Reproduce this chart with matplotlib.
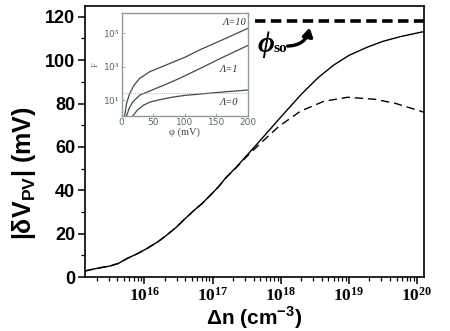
import matplotlib
matplotlib.use('Agg')
import matplotlib.pyplot as plt
import numpy as np
from matplotlib.ticker import LogLocator, MultipleLocator, FixedLocator, NullFormatter

plt.rcParams['mathtext.fontset'] = 'custom'
plt.rcParams['mathtext.rm'] = 'Liberation Serif:bold'
plt.rcParams['mathtext.bf'] = 'Liberation Serif:bold'
plt.rcParams['mathtext.sf'] = 'Liberation Sans:bold'

# main curves, log10 of delta n
logn_solid = [15.13, 15.3, 15.5, 15.62, 15.75, 15.9, 16.04, 16.2, 16.33, 16.47, 16.6,
              16.72, 16.85, 16.97, 17.09, 17.19, 17.34, 17.46, 17.58, 17.7, 17.8,
              18.05, 18.3, 18.55, 18.78, 19.0, 19.27, 19.5, 19.76, 20.1]
v_solid = [2.8, 4.0, 5.1, 6.3, 8.6, 10.8, 13.2, 16.3, 19.4, 23.0, 27.0,
           30.5, 34.0, 37.8, 41.7, 45.6, 50.4, 54.6, 58.8, 63.0, 66.6,
           75.5, 84.2, 92.0, 97.8, 102.2, 106.0, 108.7, 110.9, 113.2]

logn_dash = [15.13, 15.3, 15.5, 15.62, 15.75, 15.9, 16.04, 16.2, 16.33, 16.47, 16.6,
             16.72, 16.85, 16.97, 17.09, 17.19, 17.34, 17.5, 17.68, 17.97, 18.29,
             18.63, 18.98, 19.37, 19.67, 20.0, 20.1]
v_dash = [2.8, 4.0, 5.1, 6.3, 8.6, 10.8, 13.2, 16.3, 19.4, 23.0, 27.0,
          30.5, 34.0, 37.8, 41.7, 45.6, 50.2, 55.5, 61.0, 69.4, 76.5,
          81.0, 82.9, 82.0, 80.2, 77.0, 76.0]

logn_so = [17.63, 20.1]
v_so = [118.2, 118.2]

xticks_exp = [16, 17, 18, 19, 20]

# inset: phi (mV) and log10 F
phi_10 = [5, 8, 13, 20, 29, 45, 71, 100, 124, 160, 200]
logF_10 = [0.06, 0.8, 1.4, 1.9, 2.3, 2.7, 3.1, 3.55, 4.0, 4.6, 5.28]
phi_1 = [8, 12, 18, 29, 45, 71, 92, 124, 160, 200]
logF_1 = [0.06, 0.5, 0.9, 1.3, 1.55, 1.95, 2.3, 2.88, 3.55, 4.26]
phi_0 = [18, 25, 35, 45, 60, 80, 100, 130, 160, 200]
logF_0 = [0.06, 0.4, 0.7, 0.88, 1.02, 1.17, 1.28, 1.38, 1.48, 1.6]
logF_ref = 1.4


fig = plt.figure(figsize=(4.5, 3.31), dpi=100)
ax = fig.add_axes([0.189, 0.163, 0.753, 0.819])

ax.plot(10**np.array(logn_solid), v_solid, color='black', lw=1.0)
ax.plot(10**np.array(logn_dash), v_dash, color='black', lw=1.0, dashes=(6, 3.5))
ax.plot(10**np.array(logn_so), v_so, color='black', lw=2.6, dashes=(2.9, 1.5))

ax.set_xscale('log')
ax.set_xlim(10**15.13, 10**20.1)
ax.set_ylim(0, 125)

ax.xaxis.set_major_locator(FixedLocator([10.0**e for e in xticks_exp]))
ax.set_xticklabels([r'$\mathbf{10^{%d}}$' % e for e in xticks_exp], fontsize=12.5)
ax.xaxis.set_minor_locator(LogLocator(base=10, subs=np.arange(2, 10)))
ax.xaxis.set_minor_formatter(NullFormatter())
ax.yaxis.set_major_locator(MultipleLocator(20))
ax.yaxis.set_minor_locator(MultipleLocator(10))
for lab in ax.get_yticklabels():
    lab.set_fontweight('bold')
    lab.set_fontsize(13)
    lab.set_fontfamily('Liberation Sans')

ax.tick_params(which='major', direction='out', length=5, width=1.1, pad=2)
ax.tick_params(which='minor', direction='out', length=3, width=0.9)
ax.tick_params(axis='x', which='major', pad=2)
for s in ax.spines.values():
    s.set_linewidth(1.2)

ax.set_ylabel(r'|δV$_{\mathsf{PV}}$| (mV)', fontsize=18, fontweight='bold',
              fontfamily='Liberation Sans')
ax.yaxis.set_label_coords(-0.14, 0.384)
ax.set_xlabel(r'Δn (cm$^{\mathsf{-3}}$)', fontsize=15, fontweight='bold',
              fontfamily='Liberation Sans', labelpad=0)

# phi_so label and arrow
ax.text(10**17.66, 104.0, 'ϕ', fontfamily='Liberation Serif', fontstyle='italic',
        fontweight='bold', fontsize=21, ha='left', va='baseline')
ax.text(10**17.9, 104.0, 'so', fontfamily='Liberation Serif',
        fontweight='bold', fontsize=11, ha='left', va='baseline')
ax.annotate('', xy=(10**18.43, 116.3), xytext=(10**18.06, 106.5),
            arrowprops=dict(arrowstyle='-|>,head_length=0.5,head_width=0.3',
                            color='black', lw=2.4,
                            connectionstyle='arc3,rad=0.45'))

# inset
frame_c = '#8c9a9a'
line_c = '#3c4c4c'
ins = fig.add_axes([0.270, 0.650, 0.281, 0.311])
ins.plot(phi_10, 10**np.array(logF_10), color=line_c, lw=0.9)
ins.plot(phi_1, 10**np.array(logF_1), color=line_c, lw=0.9)
ins.plot(phi_0, 10**np.array(logF_0), color=line_c, lw=0.9)
ins.axhline(10**logF_ref, color='#9aa6a6', lw=0.6, ls=(0, (1, 1.5)))
ins.set_yscale('log')
ins.set_xlim(0, 200)
ins.set_ylim(10**0.06, 10**6.2)
ins.set_xticks([0, 50, 100, 150, 200])
ins.set_yticks([10.0, 1e3, 1e5])
ins.set_yticklabels([r'10$^{1}$', r'10$^{3}$', r'10$^{5}$'])
ins.yaxis.set_minor_locator(LogLocator(base=10, subs=np.arange(2, 10)))
ins.yaxis.set_minor_formatter(NullFormatter())
ins.tick_params(which='both', direction='in', colors=frame_c, labelcolor='#5a6868',
                labelsize=6.5, width=0.6, pad=1.5)
ins.tick_params(which='major', length=2.5)
ins.tick_params(which='minor', length=1.5)
for s in ins.spines.values():
    s.set_color(frame_c)
    s.set_linewidth(1.0)
ins.set_xlabel('φ (mV)', fontfamily='Liberation Serif', fontsize=7.5,
               color='#3c4848', labelpad=0)
ins.set_ylabel('F', fontfamily='Liberation Serif', fontsize=6, color='#5a6868',
               labelpad=2)
ins.text(160, 10**5.65, 'Λ=10', fontfamily='Liberation Serif', fontstyle='italic',
         fontsize=7.5, color='#2a3434', ha='left', va='center')
ins.text(155, 10**2.85, 'Λ=1', fontfamily='Liberation Serif', fontstyle='italic',
         fontsize=7.5, color='#2a3434', ha='left', va='center')
ins.text(155, 10**0.85, 'Λ=0', fontfamily='Liberation Serif', fontstyle='italic',
         fontsize=7.5, color='#2a3434', ha='left', va='center')

fig.savefig('out.png', dpi=100)
